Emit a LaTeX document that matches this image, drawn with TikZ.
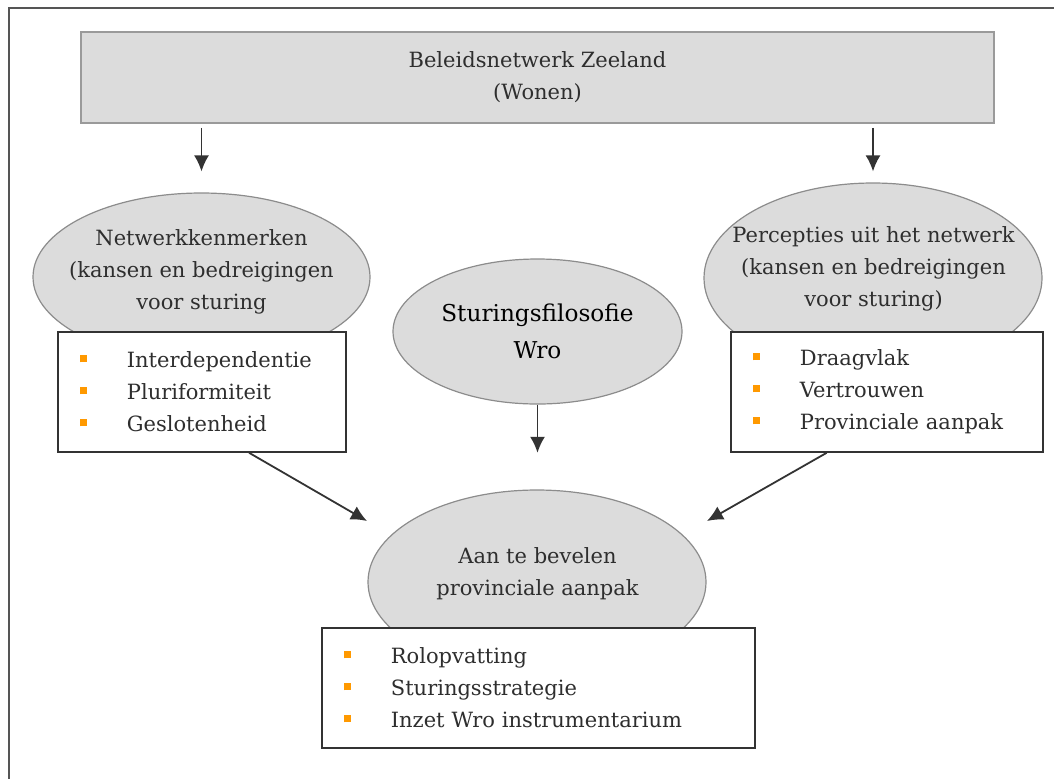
\documentclass[tikz,border=0pt]{standalone}
\usepackage{fontspec}
\setmainfont{DejaVu Serif}
\usepackage{xcolor}
\usetikzlibrary{calc}
\usetikzlibrary{arrows.meta}
\usetikzlibrary{shapes.geometric}
\tikzset{>={Latex[length=8pt,width=7.5pt]}}
\definecolor{vulgrijs}{HTML}{DCDCDC}
\definecolor{ovaalrand}{HTML}{8C8C8C}
\definecolor{balkrand}{HTML}{9A9A9A}
\definecolor{lijnkleur}{HTML}{333333}
\definecolor{tekstgrijs}{HTML}{2E2E2E}
\definecolor{kader}{HTML}{555555}
\definecolor{bolletje}{HTML}{FF9900}
\newcommand{\punt}{\textcolor{bolletje}{\rule[2.7pt]{3.5pt}{3.5pt}}\hspace{20pt}}

\begin{document}
\begin{tikzpicture}[x=0.5pt,y=-0.5pt,font=\fontsize{10.5}{16}\selectfont,
	ovaal/.style={draw=ovaalrand,fill=vulgrijs,ellipse,inner sep=0pt,line width=0.6pt},
	ovaaltekst/.style={align=center,text=tekstgrijs,inner sep=0pt},
	lijst/.style={draw=lijnkleur,fill=white,line width=0.9pt,anchor=north west,inner xsep=11pt,align=left,text=tekstgrijs,minimum height=60pt},
	pijl/.style={->,draw=lijnkleur,line width=0.9pt}]
	\useasboundingbox (0,0) rectangle (1054,778);
	\draw[kader,line width=1.1pt] (9,8) rectangle (1090,800);
	\node[draw=balkrand,fill=vulgrijs,line width=0.8pt,minimum width=456.5pt,minimum height=45.5pt,align=center,text=tekstgrijs] (beleid) at (537.5,77.5) {Beleidsnetwerk Zeeland\\(Wonen)};
	% ovalen
	\node[ovaal,minimum width=168.5pt,minimum height=84pt] (netwerk) at (201.5,277) {};
	\node[ovaaltekst] (netwerktekst) at (201.5,272) {Netwerkkenmerken\\(kansen en bedreigingen\\voor sturing};
	\node[ovaal,minimum width=169pt,minimum height=95pt] (percepties) at (873,278) {};
	\node[ovaaltekst] (perceptiestekst) at (873.5,269) {Percepties uit het netwerk\\(kansen en bedreigingen\\voor sturing)};
	\node[ovaal,minimum width=144.5pt,minimum height=72.5pt] (filosofie) at (537.5,331.5) {};
	\node[ovaaltekst,text=black,font=\fontsize{11.6}{18.5}\selectfont] (filosofietekst) at (537.5,331.5) {Sturingsfilosofie\\Wro};
	\node[ovaal,minimum width=169pt,minimum height=92pt] (aanpak) at (537,582) {};
	\node[ovaaltekst] (aanpaktekst) at (537.5,573.5) {Aan te bevelen\\provinciale aanpak};
	% lijsten
	\node[lijst,minimum width=144pt,text width=122pt] (kenmerken) at (57,331) {\punt Interdependentie\\\punt Pluriformiteit\\\punt Geslotenheid};
	\node[lijst,minimum width=156pt,text width=134pt] (draagvlak) at (730,331) {\punt Draagvlak\\\punt Vertrouwen\\\punt Provinciale aanpak};
	\node[lijst,minimum width=216.5pt,text width=194.5pt] (rol) at (321,627) {\punt Rolopvatting\\\punt Sturingsstrategie\\\punt Inzet Wro instrumentarium};
	% pijlen
	\coordinate (naarL) at (367,521);
	\coordinate (naarR) at (707,521);
	\draw[pijl,shorten <=2pt,shorten >=10.5pt] (beleid.south -| netwerk.north) -- (netwerk.north);
	\draw[pijl,shorten <=2pt,shorten >=5.5pt] (beleid.south -| percepties.north) -- (percepties.north);
	\draw[pijl] (filosofie.south) -- (filosofie.south |- kenmerken.south);
	\draw[pijl] ($(kenmerken.south west)!0.663!(kenmerken.south east)$) -- (naarL);
	\draw[pijl] ($(draagvlak.south west)!0.308!(draagvlak.south east)$) -- (naarR);
\end{tikzpicture}
\end{document}
